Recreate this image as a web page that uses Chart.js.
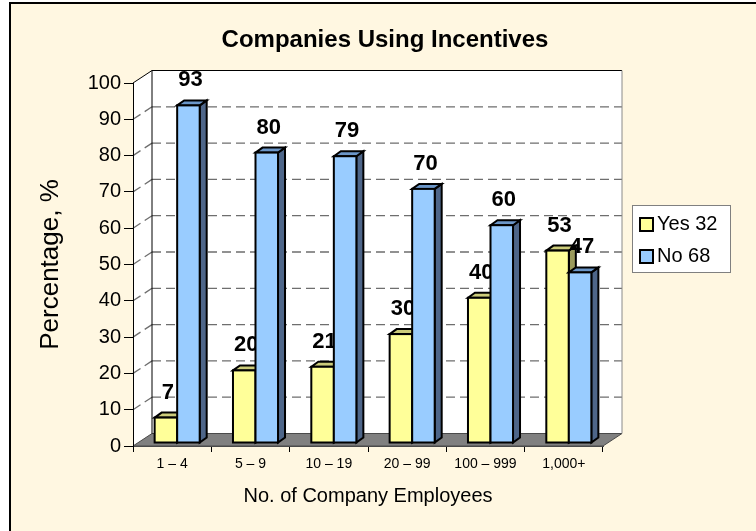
<!DOCTYPE html>
<html><head><meta charset="utf-8">
<script src="https://cdn.jsdelivr.net/npm/chart.js@4.4.1/dist/chart.umd.min.js"></script>
<style>html,body{margin:0;padding:0;background:#fff}#wrap{width:756px;height:531px}</style>
</head><body><div id="wrap"><canvas id="c" width="756" height="531"></canvas></div>
<script>
// ---- data ----
const categories = ['1 – 4', '5 – 9', '10 – 19', '20 – 99', '100 – 999', '1,000+'];
const yesValues = [7, 20, 21, 30, 40, 53];
const noValues = [93, 80, 79, 70, 60, 47];
const seriesNames = ['Yes 32', 'No 68'];
const yMin = 0, yMax = 100, yStep = 10;
const chartTitle = 'Companies Using Incentives';
const xTitle = 'No. of Company Employees';
const yTitle = 'Percentage, %';

// ---- style ----
const CREAM = '#FFF7E1';
const FONT = '"Liberation Sans", Arial, sans-serif';
const WALL_DX = 19, WALL_DY = -12.5;   // depth of the 3D box
const SHIFT_X = 5, SHIFT_Y = -3;       // bars sit a little back in depth
const BAR_DX = 7, BAR_DY = -5;         // depth of each bar
const FACES = [
  {front: '#FFFF99', top: '#CCCC7A', side: '#9A9A5C'},
  {front: '#99CCFF', top: '#6B96C8', side: '#4E6689'}
];

Chart.defaults.font.family = FONT;
Chart.defaults.color = '#000';

function poly(ctx, pts, fill, stroke, lw) {
  ctx.beginPath();
  ctx.moveTo(pts[0][0], pts[0][1]);
  for (let i = 1; i < pts.length; i++) ctx.lineTo(pts[i][0], pts[i][1]);
  ctx.closePath();
  if (fill) { ctx.fillStyle = fill; ctx.fill(); }
  if (stroke) { ctx.strokeStyle = stroke; ctx.lineWidth = lw || 1; ctx.stroke(); }
}

const threeD = {
  id: 'threeD',
  beforeDraw(chart) {
    const {ctx, chartArea: a} = chart;
    const y = chart.scales.y;
    ctx.save();
    ctx.fillStyle = '#fff';
    ctx.fillRect(0, 0, chart.width, chart.height);
    ctx.fillStyle = CREAM;
    ctx.fillRect(10, 3, chart.width, chart.height);
    ctx.strokeStyle = '#000'; ctx.lineWidth = 2;
    ctx.strokeRect(10, 3, chart.width + 10, chart.height + 10);

    // back wall
    ctx.fillStyle = '#fff';
    ctx.fillRect(a.left + WALL_DX, a.top + WALL_DY, a.right - a.left, a.bottom - a.top);
    // left wall
    poly(ctx, [[a.left, a.top], [a.left + WALL_DX, a.top + WALL_DY], [a.left + WALL_DX, a.bottom + WALL_DY], [a.left, a.bottom]], '#fff');
    // floor
    poly(ctx, [[a.left, a.bottom], [a.right, a.bottom], [a.right + WALL_DX, a.bottom + WALL_DY], [a.left + WALL_DX, a.bottom + WALL_DY]], '#808080', '#4a4a4a', 1);

    // gridlines
    ctx.setLineDash([9, 5]);
    ctx.strokeStyle = '#6e6e6e'; ctx.lineWidth = 1.3;
    y.ticks.forEach(t => {
      if (t.value <= yMin || t.value >= yMax) return;
      const py = y.getPixelForValue(t.value);
      ctx.beginPath();
      ctx.moveTo(a.left + WALL_DX, py + WALL_DY);
      ctx.lineTo(a.right + WALL_DX, py + WALL_DY);
      ctx.stroke();
      ctx.beginPath();
      ctx.moveTo(a.left, py);
      ctx.lineTo(a.left + WALL_DX, py + WALL_DY);
      ctx.stroke();
    });
    ctx.setLineDash([]);

    // wall edges
    ctx.strokeStyle = '#000'; ctx.lineWidth = 1;
    ctx.beginPath();
    ctx.moveTo(a.left, a.top);
    ctx.lineTo(a.left + WALL_DX, a.top + WALL_DY);
    ctx.lineTo(a.right + WALL_DX, a.top + WALL_DY);
    ctx.moveTo(a.left + WALL_DX, a.top + WALL_DY);
    ctx.lineTo(a.left + WALL_DX, a.bottom + WALL_DY);
    ctx.stroke();
    ctx.strokeStyle = '#8a8a8a';
    ctx.beginPath();
    ctx.moveTo(a.right + WALL_DX, a.top + WALL_DY);
    ctx.lineTo(a.right + WALL_DX, a.bottom + WALL_DY);
    ctx.stroke();
    ctx.restore();
  },
  beforeDatasetDraw() { return false; },
  afterDatasetsDraw(chart) {
    const ctx = chart.ctx;
    [0, 1].forEach(i => {
      const meta = chart.getDatasetMeta(i);
      if (meta.hidden) return;
      const f = FACES[i];
      const vals = chart.data.datasets[i].data;
      ctx.save();
      ctx.translate(SHIFT_X, SHIFT_Y);
      ctx.lineJoin = 'miter';
      meta.data.forEach(el => {
        const {x, y, base, width} = el.getProps(['x', 'y', 'base', 'width'], true);
        const L = x - width / 2, R = x + width / 2;
        poly(ctx, [[R, y], [R + BAR_DX, y + BAR_DY], [R + BAR_DX, base + BAR_DY], [R, base]], f.side, '#000', 2);
        poly(ctx, [[L, y], [L + BAR_DX, y + BAR_DY], [R + BAR_DX, y + BAR_DY], [R, y]], f.top, '#000', 2);
      });
      meta.controller.draw();
      meta.data.forEach(el => {
        const {x, y, base, width} = el.getProps(['x', 'y', 'base', 'width'], true);
        ctx.strokeStyle = '#000'; ctx.lineWidth = 2;
        ctx.strokeRect(x - width / 2, y, width, base - y);
      });
      ctx.fillStyle = '#000';
      ctx.font = 'bold 22px ' + FONT;
      ctx.textAlign = 'center';
      ctx.textBaseline = 'middle';
      meta.data.forEach((el, j) => {
        const {x, y} = el.getProps(['x', 'y'], true);
        ctx.fillText(String(vals[j]), x + 2, y - 25);
      });
      ctx.restore();
    });
  },
  afterDraw(chart) {
    const ctx = chart.ctx;
    ctx.save();
    ctx.fillStyle = '#fff';
    ctx.fillRect(632, 205, 99, 68);
    ctx.strokeStyle = '#808080'; ctx.lineWidth = 1;
    ctx.strokeRect(632.5, 205.5, 98, 67);
    ctx.font = '20px ' + FONT;
    ctx.textAlign = 'left';
    ctx.textBaseline = 'middle';
    chart.data.datasets.forEach((ds, i) => {
      const cy = 224 + i * 32;
      ctx.fillStyle = ds.backgroundColor;
      ctx.fillRect(640, cy - 6, 13, 13);
      ctx.strokeStyle = '#000'; ctx.lineWidth = 2;
      ctx.strokeRect(640, cy - 6, 13, 13);
      ctx.fillStyle = '#000';
      ctx.fillText(ds.label, 657, cy);
    });
    ctx.restore();
  }
};

new Chart(document.getElementById('c'), {
  type: 'bar',
  data: {
    labels: categories,
    datasets: [
      {label: seriesNames[0], data: yesValues, backgroundColor: FACES[0].front},
      {label: seriesNames[1], data: noValues, backgroundColor: FACES[1].front}
    ]
  },
  options: {
    responsive: false,
    devicePixelRatio: 1,
    animation: false,
    layout: {padding: {left: 14, right: 0, top: 4, bottom: 0}},
    datasets: {bar: {categoryPercentage: 0.575, barPercentage: 1, borderWidth: 0, inflateAmount: 0}},
    plugins: {
      legend: {display: false},
      tooltip: {enabled: false},
      title: {
        display: true, text: chartTitle, color: '#000',
        font: {size: 24, weight: 'bold'},
        padding: {top: 21.6, bottom: 28.6}
      }
    },
    scales: {
      x: {
        ticks: {font: {size: 14}, color: '#000', padding: 4, maxRotation: 0, autoSkip: false},
        grid: {drawOnChartArea: false, drawTicks: true, tickLength: 6, tickColor: '#000', color: '#000', offset: true},
        border: {display: true, color: '#4a4a4a'},
        title: {display: true, text: xTitle, font: {size: 20}, color: '#000', padding: {top: 0, bottom: 23}},
        afterFit(s) { s.height = 85; }
      },
      y: {
        min: yMin, max: yMax,
        ticks: {stepSize: yStep, font: {size: 20}, color: '#000', padding: 3},
        grid: {drawOnChartArea: false, drawTicks: true, tickLength: 9, tickColor: '#000', color: '#000'},
        border: {display: true, color: '#000', width: 1},
        title: {display: true, text: yTitle, font: {size: 26}, color: '#000', padding: {top: 21, bottom: 0}},
        afterFit(s) { s.width = 119; }
      },
      yRight: {
        position: 'right', display: true,
        ticks: {display: false}, grid: {display: false}, border: {display: false},
        afterFit(s) { s.width = 153; }
      }
    }
  },
  plugins: [threeD]
});
</script>
</body></html>
